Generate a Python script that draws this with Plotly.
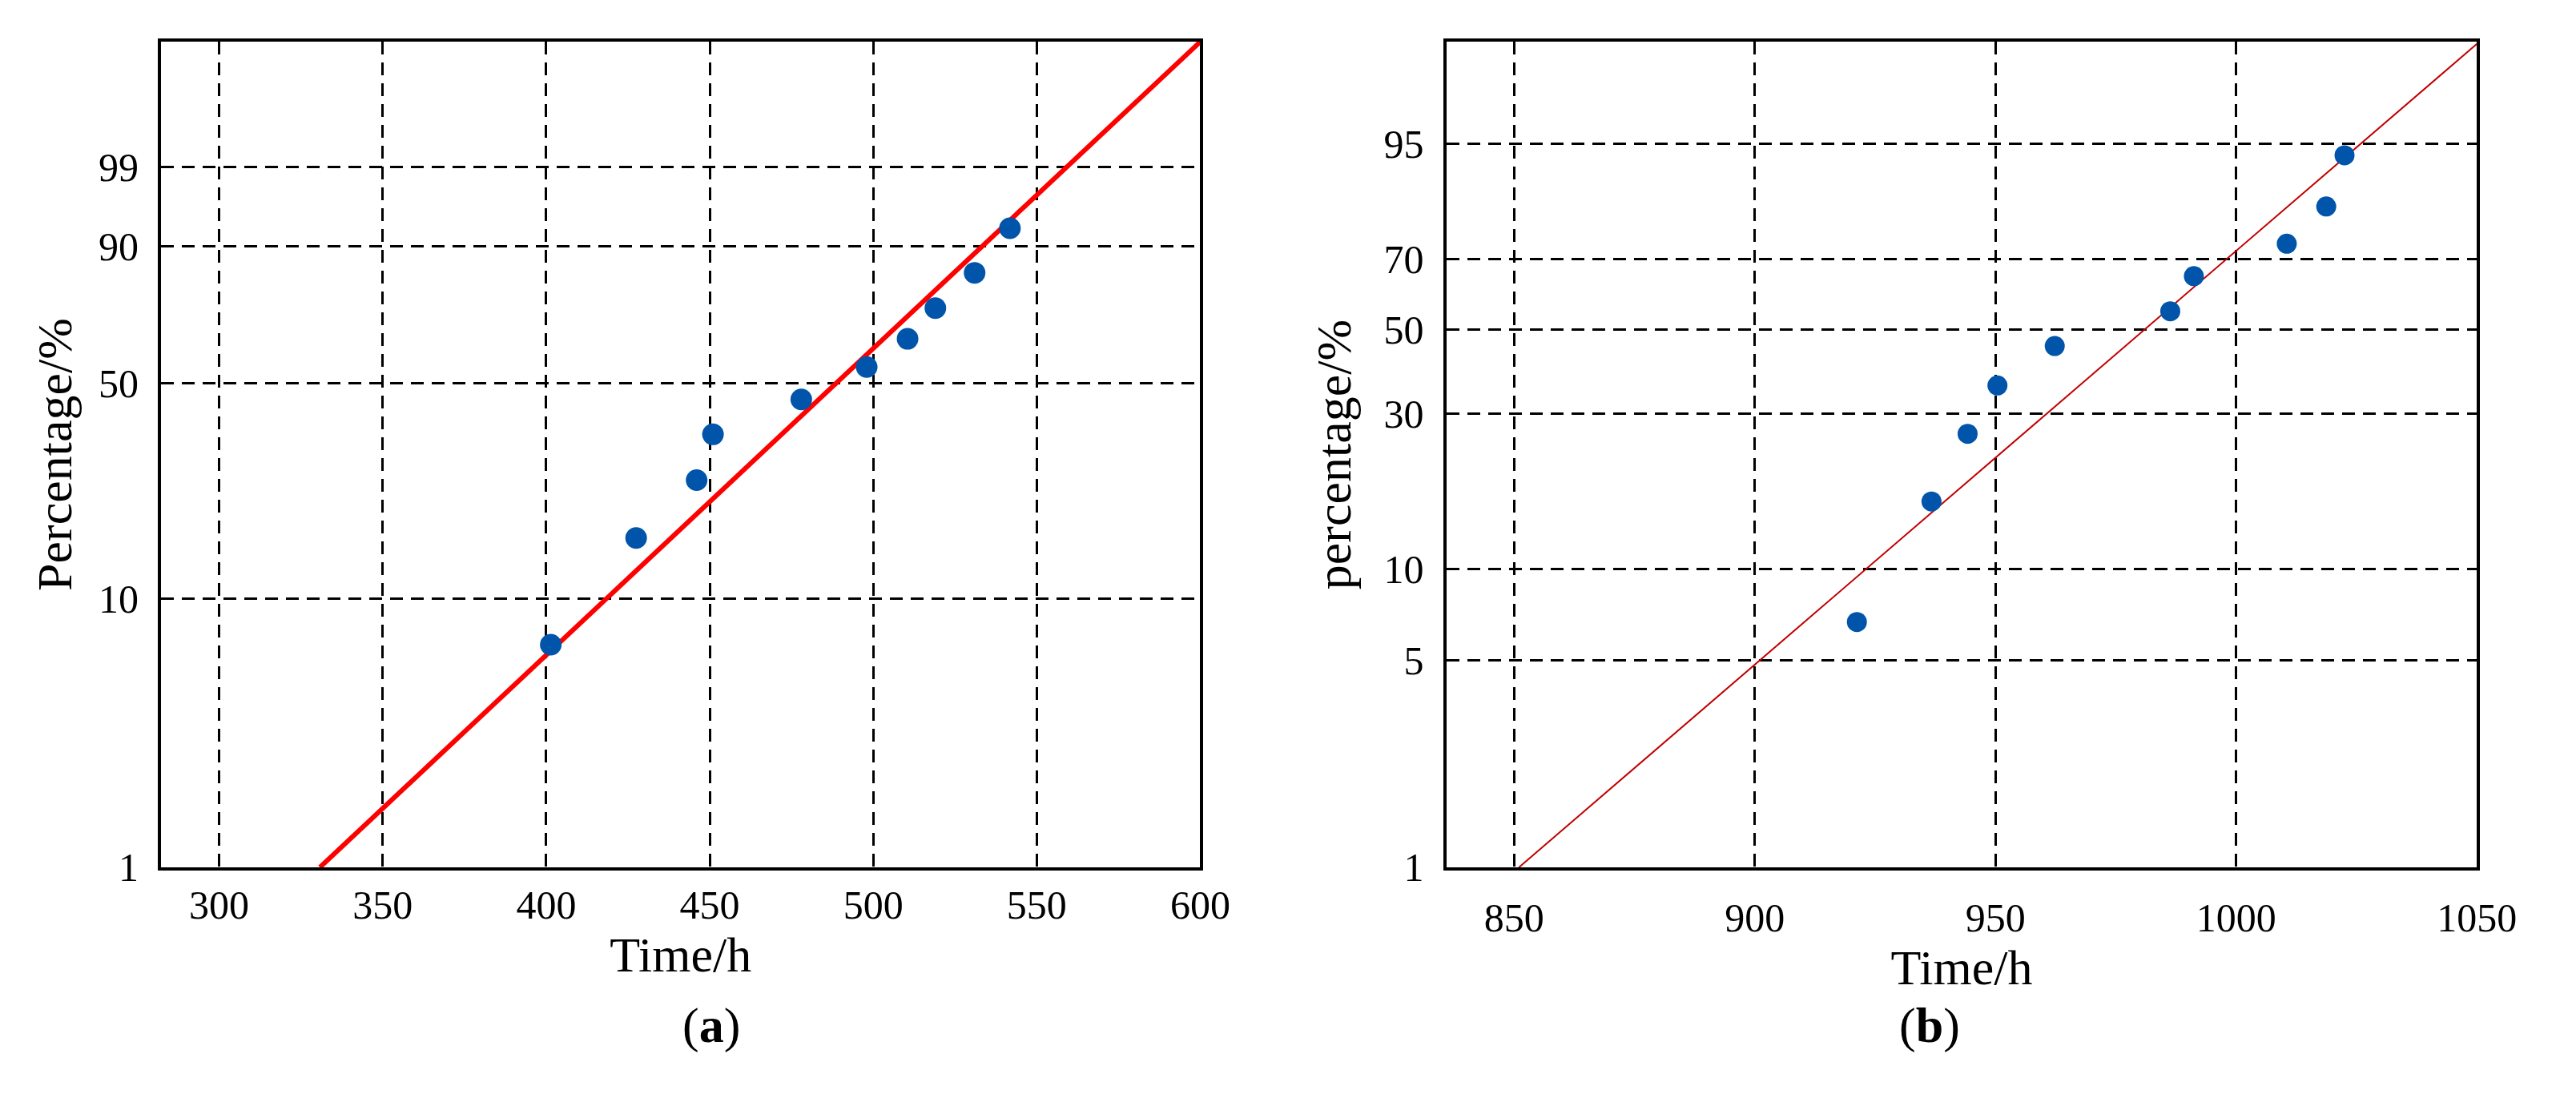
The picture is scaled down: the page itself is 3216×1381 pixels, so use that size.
import numpy as np
import plotly.graph_objects as go

# Panel (a)
a_time = [401.4, 427.5, 446.0, 451.0, 478.0, 498.0, 510.5, 519.0, 531.0, 541.8]
a_pct = [6.8, 16.4, 25.7, 35.8, 45.2, 55.0, 64.0, 73.7, 83.8, 93.2]
a_line_time = [330.8, 600.0]
a_line_pct = [1.0, 99.99989]
a_yticks = [1, 10, 50, 90, 99]
a_xticks = [300, 350, 400, 450, 500, 550, 600]

# Panel (b)
b_time = [921.2, 936.7, 944.2, 950.4, 962.3, 986.3, 991.2, 1010.5, 1018.7, 1022.5]
b_pct = [6.7, 16.4, 26.3, 36.0, 45.6, 55.1, 65.2, 74.4, 83.9, 93.5]
b_line_time = [851.0, 1050.0]
b_line_pct = [1.0, 99.86]
b_yticks = [1, 5, 10, 30, 50, 70, 95]
b_xticks = [850, 900, 950, 1000, 1050]


def wb(p):
    p = np.asarray(p, dtype=float) / 100.0
    return np.log(-np.log(1.0 - p))


W, H = 3216, 1381
fig = go.Figure()
fig.add_trace(go.Scatter(x=a_line_time, y=wb(a_line_pct), mode="lines",
                         line=dict(color="#ff0000", width=6), xaxis="x", yaxis="y"))
fig.add_trace(go.Scatter(x=a_time, y=wb(a_pct), mode="markers",
                         marker=dict(color="#0055aa", size=27), xaxis="x", yaxis="y"))
fig.add_trace(go.Scatter(x=b_line_time, y=wb(b_line_pct), mode="lines",
                         line=dict(color="#c00000", width=2), xaxis="x2", yaxis="y2"))
fig.add_trace(go.Scatter(x=b_time, y=wb(b_pct), mode="markers",
                         marker=dict(color="#0055aa", size=25), xaxis="x2", yaxis="y2"))

font = dict(family="Liberation Serif", color="black")
ax = dict(showline=True, linecolor="black", linewidth=4, mirror=True,
          showgrid=True, gridcolor="black", griddash="16px,10px", gridwidth=3,
          zeroline=False, ticks="", tickfont=dict(size=50, **font))

xa0, xa1 = 196 / W, 1514 / W
xb0, xb1 = 1826 / W, 3133 / W
y0, y1 = 1 - 1098 / H, 1 - 45 / H

fig.update_layout(
    width=W, height=H, paper_bgcolor="white", plot_bgcolor="white",
    showlegend=False, margin=dict(l=0, r=0, t=0, b=0),
    xaxis=dict(ax, domain=[xa0, xa1], range=[282.2, 600], tickvals=a_xticks,
               title=dict(text="Time/h", font=dict(size=62, **font), standoff=2)),
    yaxis=dict(ax, domain=[y0, y1], range=[-4.6, 2.62], tickvals=list(wb(a_yticks)),
               ticktext=[str(v) for v in a_yticks], ticklabelstandoff=14,
               title=dict(text="Percentage/%", font=dict(size=62, **font), standoff=14)),
    xaxis2=dict(ax, domain=[xb0, xb1], range=[835.9, 1050], tickvals=b_xticks,
                anchor="y2", ticklabelstandoff=16,
                title=dict(text="Time/h", font=dict(size=62, **font), standoff=8)),
    yaxis2=dict(ax, domain=[y0, y1], range=[-4.6, 1.9], tickvals=list(wb(b_yticks)),
                ticktext=[str(v) for v in b_yticks], anchor="x2", ticklabelstandoff=14,
                title=dict(text="percentage/%", font=dict(size=62, **font), standoff=22)),
    annotations=[
        dict(text="(<b>a</b>)", x=(xa0 + xa1) / 2, y=1 - 1300 / H, xref="paper", yref="paper",
             yanchor="middle", showarrow=False, font=dict(size=62, **font)),
        dict(text="(<b>b</b>)", x=(xb0 + xb1) / 2, y=1 - 1300 / H, xref="paper", yref="paper",
             yanchor="middle", showarrow=False, font=dict(size=62, **font)),
    ],
)
fig.write_html("out.html")
